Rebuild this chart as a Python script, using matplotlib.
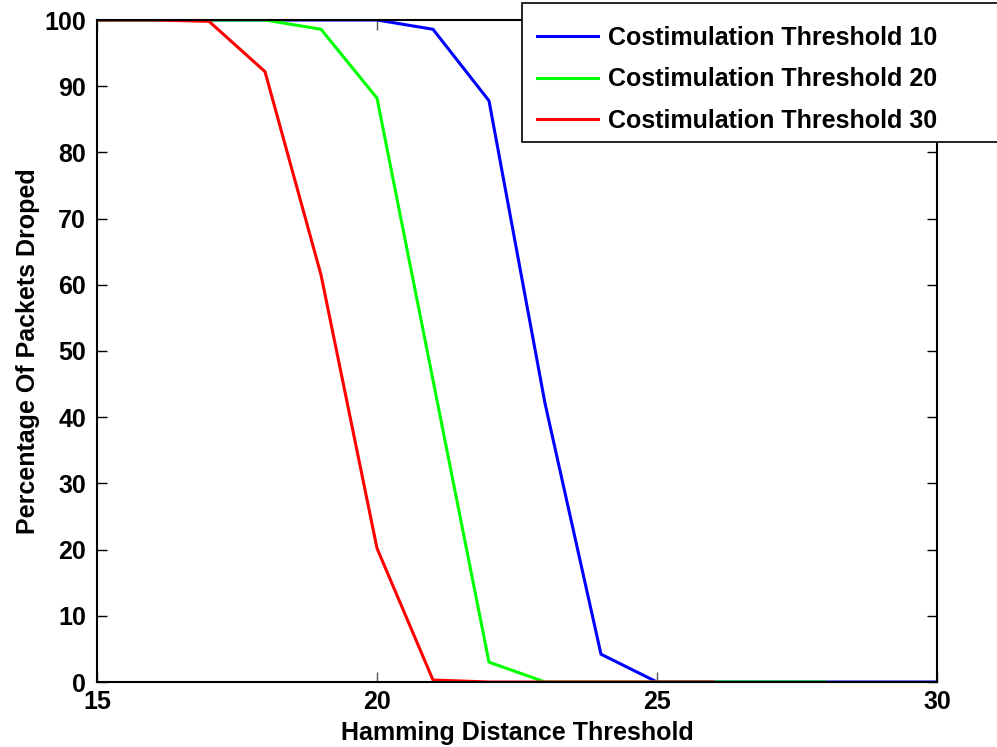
import matplotlib
matplotlib.use("Agg")
import matplotlib.pyplot as plt
from matplotlib.patches import Rectangle

plt.rcParams['font.family'] = ['Liberation Sans', 'DejaVu Sans']
plt.rcParams['font.weight'] = 'bold'

x_blue = [15, 16, 17, 18, 19, 20, 21, 22, 23, 24, 25, 26, 27, 28, 29, 30]
y_blue = [100, 100, 100, 100, 100, 100, 98.6, 87.8, 42.1, 4.2, 0, 0, 0, 0, 0, 0]
x_green = [15, 16, 17, 18, 19, 20, 21, 22, 23, 24, 25, 26, 27, 28]
y_green = [100, 100, 100, 100, 98.6, 88.2, 45.6, 3.0, 0, 0, 0, 0, 0, 0]
x_red = [15, 16, 17, 18, 19, 20, 21, 22, 23, 24, 25, 26]
y_red = [100, 100, 99.8, 92.2, 61.5, 20.2, 0.3, 0, 0, 0, 0, 0]
labels = ['Costimulation Threshold 10', 'Costimulation Threshold 20', 'Costimulation Threshold 30']
xticks = [15, 20, 25, 30]
yticks = [0, 10, 20, 30, 40, 50, 60, 70, 80, 90, 100]

fig = plt.figure(figsize=(9.97, 7.47), dpi=100)
ax = fig.add_axes([97/997, 1-682/747, (937-97)/997, (682-20)/747])

lw = 2.2
l1, = ax.plot(x_blue, y_blue, color='#0000ff', lw=lw, label=labels[0])
l2, = ax.plot(x_green, y_green, color='#00ff00', lw=lw, label=labels[1])
l3, = ax.plot(x_red, y_red, color='#ff0000', lw=lw, label=labels[2])

fs = 18
ax.set_xlim(15, 30)
ax.set_ylim(0, 100)
ax.set_xticks(xticks)
ax.set_yticks(yticks)
ax.tick_params(direction='in', length=7, width=1, labelsize=fs, top=True, right=True)
ax.tick_params(axis='y', pad=8)
ax.tick_params(axis='x', pad=6, colors='#555555', labelcolor='black')
for s in ax.spines.values():
    s.set_linewidth(1.5)
for t in ax.get_xticklabels() + ax.get_yticklabels():
    t.set_fontweight('bold')

ax.set_xlabel('Hamming Distance Threshold', fontsize=fs, fontweight='bold', labelpad=5)
ax.set_ylabel('Percentage Of Packets Droped', fontsize=fs, fontweight='bold', labelpad=3)

# legend box extending past the right edge
rect = Rectangle((522/997, 1-142/747), (1010-522)/997, (142-3)/747,
                 transform=fig.transFigure, facecolor='white', edgecolor='black',
                 lw=1.2, zorder=5, clip_on=False)
fig.patches.append(rect)
leg = fig.legend(handles=[l1, l2, l3], loc='upper left',
                 bbox_to_anchor=(537/997, 1-26/747), frameon=False,
                 fontsize=fs, handlelength=2.45, handletextpad=0.4,
                 labelspacing=0.69, borderaxespad=0, borderpad=0)
leg.set_zorder(6)
for t in leg.get_texts():
    t.set_fontweight('bold')

fig.savefig('out.png', dpi=100)
